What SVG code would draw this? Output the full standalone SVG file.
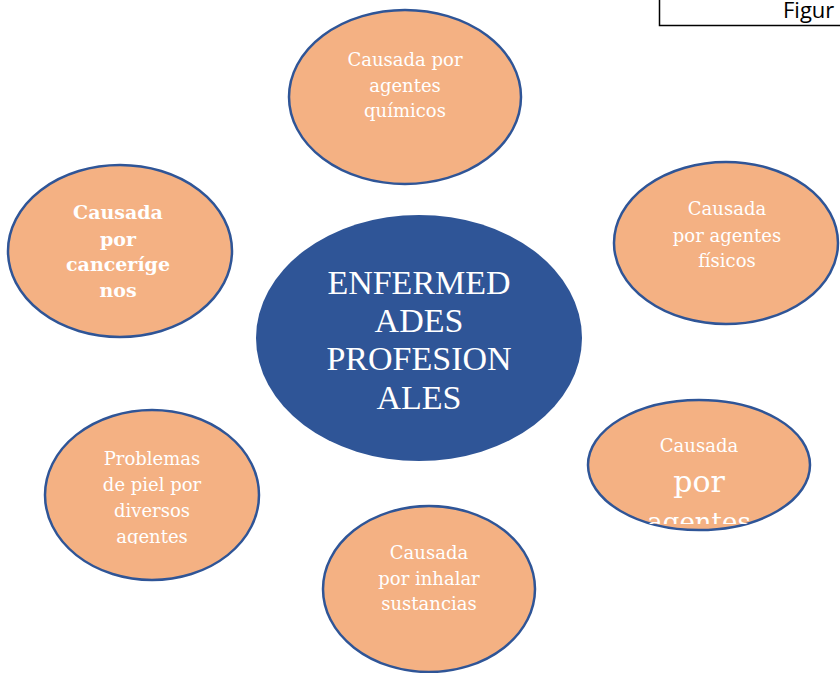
<svg xmlns="http://www.w3.org/2000/svg" width="840" height="673" viewBox="0 0 840 673">
<style>
.n{fill:#F4B183;stroke:#2F5597;stroke-width:2.5}
.c{fill:#2F5597;stroke:none}
.t{font-family:"DejaVu Serif","Liberation Serif",serif;font-size:18px;fill:#fff;text-anchor:middle}
.b{font-weight:bold;font-size:19px}
.ct{font-family:"Liberation Serif","DejaVu Serif",serif;font-size:34px;fill:#fff;text-anchor:middle}
</style>
<defs>
<clipPath id="clipR"><rect x="580" y="400" width="240" height="124"/></clipPath>
<clipPath id="clipBL"><rect x="30" y="400" width="240" height="144"/></clipPath>
</defs>
<rect x="659.5" y="-2" width="190" height="27.5" fill="#fff" stroke="#000" stroke-width="1.5"/>
<text x="783" y="18" font-family="'Open Sans','Liberation Sans',sans-serif" font-size="22" fill="#000">Figur</text>
<g id="connectors"></g>
<g id="top"><ellipse class="n" cx="405" cy="97" rx="116" ry="87"/>
<text class="t" x="405" y="66">Causada por</text><text class="t" x="405" y="92">agentes</text><text class="t" x="405" y="117">químicos</text></g>
<g id="topright"><ellipse class="n" cx="726" cy="243" rx="112" ry="81"/>
<text class="t" x="727" y="215">Causada</text><text class="t" x="727" y="242">por agentes</text><text class="t" x="727" y="267">físicos</text></g>
<g id="left"><ellipse class="n" cx="120" cy="251" rx="112" ry="86"/>
<text class="t b" x="118" y="219">Causada</text><text class="t b" x="118" y="246">por</text><text class="t b" x="118" y="271">canceríge</text><text class="t b" x="118" y="297">nos</text></g>
<g id="center"><ellipse class="c" cx="419" cy="338" rx="163" ry="123"/>
<text class="ct" x="419" y="294">ENFERMED</text><text class="ct" x="419" y="332">ADES</text><text class="ct" x="419" y="370">PROFESION</text><text class="ct" x="419" y="409">ALES</text></g>
<g id="rightlower"><ellipse class="n" cx="699" cy="465" rx="111" ry="65"/>
<g clip-path="url(#clipR)"><text class="t" x="699" y="452">Causada</text><text class="t" x="699" y="492" style="font-size:30px">por</text><text class="t" x="699" y="531" style="font-size:26px">agentes</text></g></g>
<g id="bottomleft"><ellipse class="n" cx="152" cy="495" rx="107" ry="85"/>
<g clip-path="url(#clipBL)"><text class="t" x="152" y="465">Problemas</text><text class="t" x="152" y="491">de piel por</text><text class="t" x="152" y="517">diversos</text><text class="t" x="152" y="543">agentes</text></g></g>
<g id="bottom"><ellipse class="n" cx="429" cy="589" rx="106" ry="83"/>
<text class="t" x="429" y="559">Causada</text><text class="t" x="429" y="585">por inhalar</text><text class="t" x="429" y="610">sustancias</text></g>
</svg>
